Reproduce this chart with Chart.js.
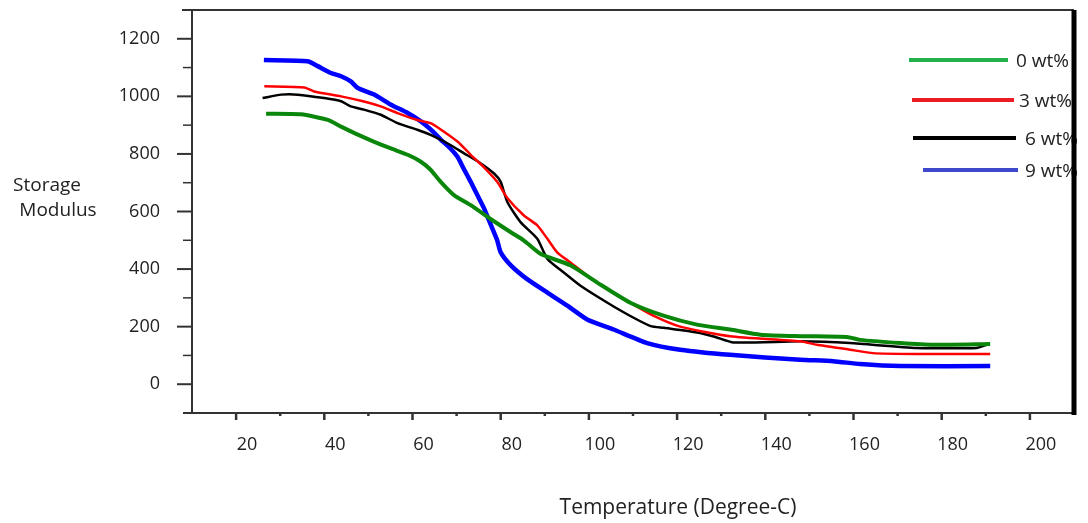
<!DOCTYPE html>
<html>
<head>
<meta charset="utf-8">
<script src="https://cdn.jsdelivr.net/npm/chart.js@4.4.1/dist/chart.umd.min.js"></script>
<style>
  body { margin: 0; background: #fff; }
</style>
</head>
<body>
<canvas id="myChart" width="1088" height="523"></canvas>
<script>
// series names + colours
const seriesNames = ['0 wt%', '3 wt%', '6 wt%', '9 wt%'];
const lineColors = ['#0a870a', '#ff0000', '#000000', '#0000ff'];
const legendColors = ['#22b14c', '#ed1c24', '#000000', '#3f48cc'];

// 0 wt%
const temp0 = [26.8, 34.7, 40.8, 43.8, 47.6, 51.2, 55.1, 58.9, 61.9, 64.1, 66.4, 69.4, 73.2, 77.7, 82.3, 85.2, 89.1, 95.8, 101.9, 109.4, 116.9, 124.5, 132, 138.9, 147.9, 158.5, 161.5, 170.6, 178, 191];
const mod0 = [940, 938, 918, 895, 867, 843, 819, 797, 773, 745, 703, 657, 622, 574, 528, 500, 452, 413, 353, 283, 238, 207, 190, 172, 167, 164, 154, 143, 137, 140];

// 3 wt%
const temp3 = [26.4, 35.5, 37.7, 43.8, 49.0, 52.8, 56.6, 61.1, 64.1, 66.4, 70.2, 73.2, 76.1, 79.2, 81.5, 85.2, 88.3, 90.6, 92.8, 95.8, 99.6, 104.2, 109.4, 114.6, 120.7, 132, 147.9, 151.7, 159.2, 164.4, 174.3, 191];
const mod3 = [1035, 1031, 1017, 1000, 982, 965, 942, 918, 907, 885, 843, 797, 755, 703, 647, 587, 552, 505, 458, 423, 378, 330, 283, 238, 200, 167, 149, 137, 120, 108, 105, 105];

// 6 wt%
const temp6 = [26.0, 30.2, 34.0, 40.0, 43.8, 46.0, 49.0, 52.8, 56.6, 61.1, 64.1, 67.9, 71.7, 75.5, 78.5, 80.0, 81.5, 84.5, 88.3, 90.6, 94.3, 98.1, 104.2, 109.4, 114.0, 117.0, 124.5, 128.5, 132.8, 147.9, 159.2, 174.3, 187.9, 190.2];
const mod6 = [994, 1006, 1006, 994, 983, 965, 954, 936, 907, 884, 866, 837, 802, 767, 732, 703, 633, 563, 505, 435, 388, 342, 283, 237, 202, 196, 180, 165, 145, 149, 143, 126, 126, 137];

// 9 wt%
const temp9 = [26.3, 36.2, 38.5, 41.5, 43.8, 46.0, 47.6, 51.2, 55.0, 58.9, 61.9, 64.1, 66.4, 68.6, 70.2, 71.6, 73.2, 74.7, 76.1, 77.7, 79.2, 80.0, 82.3, 86.0, 90.6, 95.1, 99.6, 105.6, 113.2, 120.7, 132, 147.9, 155.4, 161.5, 170.6, 191];
const mod9 = [1126, 1122, 1105, 1081, 1070, 1052, 1029, 1007, 972, 942, 913, 885, 850, 819, 790, 749, 703, 657, 615, 556, 500, 458, 413, 365, 318, 273, 225, 190, 143, 120, 102, 85, 80, 70, 63, 63];

const xTickLabels = [20, 40, 60, 80, 100, 120, 140, 160, 180, 200];
const yTickLabels = [0, 200, 400, 600, 800, 1000, 1200];

const temps = [temp0, temp3, temp6, temp9];
const mods = [mod0, mod3, mod6, mod9];
const widths = [4, 2.5, 2.5, 4.5];

function toPoints(xs, ys) {
    return xs.map((t, i) => ({ x: t, y: ys[i] }));
}

Chart.defaults.font.family = "'Open Sans', sans-serif";

// axis frame, tick marks, titles and the hand placed legend
const framePlugin = {
    id: 'frame',
    afterDraw(chart) {
        const { ctx, chartArea: a, scales: { x, y } } = chart;
        ctx.save();
        ctx.strokeStyle = '#333';

        // y tick marks
        for (let v = -100; v <= 1300; v += 100) {
            const py = y.getPixelForValue(v);
            const major = yTickLabels.includes(v);
            ctx.lineWidth = major ? 2 : 1.5;
            ctx.beginPath();
            ctx.moveTo(a.left - (major ? 15 : 9), py);
            ctx.lineTo(a.left, py);
            ctx.stroke();
        }

        // x tick marks
        for (let v = 20; v <= 200; v += 10) {
            const px = x.getPixelForValue(v);
            const major = xTickLabels.includes(v);
            ctx.lineWidth = 2.5;
            ctx.beginPath();
            ctx.moveTo(px, a.bottom);
            ctx.lineTo(px, a.bottom + (major ? 7 : 3));
            ctx.stroke();
        }

        // left + bottom + top lines
        ctx.lineWidth = 2;
        ctx.beginPath();
        ctx.moveTo(a.left, a.top);
        ctx.lineTo(a.left, a.bottom);
        ctx.moveTo(a.left - 9, a.bottom);
        ctx.lineTo(a.right, a.bottom);
        ctx.moveTo(a.left - 10, a.top);
        ctx.lineTo(a.right, a.top);
        ctx.stroke();

        // legend
        const rowY = [60, 100, 138, 170];
        const lineX0 = [909, 912, 913, 923];
        const lineX1 = [1008, 1014, 1016, 1018];
        const textX = [1016, 1019, 1025, 1025];
        ctx.font = "19px 'Open Sans', sans-serif";
        ctx.textBaseline = 'middle';
        ctx.textAlign = 'left';
        seriesNames.forEach((name, i) => {
            ctx.strokeStyle = legendColors[i];
            ctx.lineWidth = 4;
            ctx.beginPath();
            ctx.moveTo(lineX0[i], rowY[i]);
            ctx.lineTo(lineX1[i], rowY[i]);
            ctx.stroke();
            ctx.fillStyle = '#222';
            ctx.fillText(name, textX[i], rowY[i] + 2);
        });

        // thick right border, drawn over the legend text
        ctx.strokeStyle = '#000';
        ctx.lineWidth = 5;
        ctx.beginPath();
        ctx.moveTo(a.right, a.top);
        ctx.lineTo(a.right, a.bottom + 2);
        ctx.stroke();

        // axis titles
        ctx.fillStyle = '#222';
        ctx.font = "19px 'Open Sans', sans-serif";
        ctx.textAlign = 'center';
        ctx.fillText('Storage', 47, 186);
        ctx.fillText('Modulus', 58, 211);
        ctx.font = "21px 'Open Sans', sans-serif";
        ctx.fillText('Temperature (Degree-C)', 678, 508);

        ctx.restore();
    }
};

const ctx = document.getElementById('myChart');

const config = {
    type: 'line',
    data: {
        datasets: seriesNames.map((name, i) => ({
            label: name,
            data: toPoints(temps[i], mods[i]),
            borderColor: lineColors[i],
            borderWidth: widths[i],
            pointRadius: 0,
            tension: 0.2,
            fill: false
        }))
    },
    options: {
        responsive: false,
        animation: false,
        devicePixelRatio: 1,
        layout: { padding: { top: 10, right: 14, left: 0, bottom: 0 } },
        plugins: {
            legend: { display: false },
            tooltip: { enabled: false }
        },
        scales: {
            x: {
                type: 'linear',
                min: 10,
                max: 210,
                grid: { display: false },
                border: { display: false },
                ticks: {
                    stepSize: 10,
                    autoSkip: false,
                    maxRotation: 0,
                    padding: 13,
                    labelOffset: 11,
                    color: '#222',
                    font: { size: 18 },
                    callback: (v) => xTickLabels.includes(v) ? String(v) : ''
                },
                afterFit: (scale) => {
                    scale.height = 110;
                    scale.paddingLeft = 0;
                    scale.paddingRight = 0;
                }
            },
            y: {
                min: -100,
                max: 1300,
                grid: { display: false },
                border: { display: false },
                ticks: {
                    stepSize: 100,
                    autoSkip: false,
                    padding: 24,
                    color: '#222',
                    font: { size: 18 },
                    callback: (v) => yTickLabels.includes(v) ? String(v) : ''
                },
                afterFit: (scale) => {
                    scale.width = 192;
                    scale.paddingTop = 0;
                    scale.paddingBottom = 0;
                }
            }
        }
    },
    plugins: [framePlugin]
};

new Chart(ctx, config);
</script>
</body>
</html>
